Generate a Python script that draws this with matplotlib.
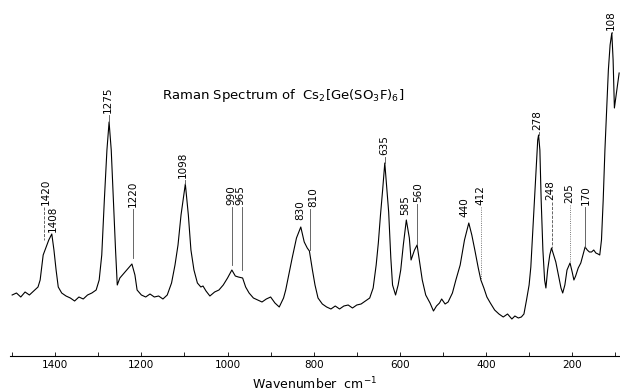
import matplotlib
matplotlib.use("Agg")
import matplotlib.pyplot as plt
import numpy as np

# spectrum: wavenumber (cm-1) and intensity (arb. units)
wavenumber = [1500, 1490, 1480, 1470, 1460, 1450, 1440, 1435, 1428, 1422, 1415, 1408,
              1403, 1398, 1393, 1385, 1375, 1365, 1355, 1345, 1335, 1325, 1315, 1305,
              1298, 1292, 1286, 1280, 1275, 1270, 1265, 1260, 1256, 1250, 1244, 1238,
              1230, 1222, 1215, 1210, 1200, 1190, 1180, 1170, 1160, 1150, 1140, 1130,
              1122, 1115, 1108, 1098, 1091, 1085, 1078, 1070, 1062, 1057, 1050, 1041,
              1030, 1020, 1010, 1000, 990, 982, 975, 965, 958, 950, 940, 930,
              920, 910, 900, 890, 880, 870, 865, 858, 850, 840, 830, 822,
              815, 810, 803, 797, 790, 780, 770, 760, 750, 740, 730, 720,
              710, 700, 690, 680, 670, 662, 655, 650, 645, 640, 635, 630,
              626, 621, 617, 610, 604, 598, 592, 585, 578, 574, 566, 560,
              553, 548, 540, 530, 522, 515, 508, 503, 495, 488, 478, 470,
              460, 450, 440, 433, 426, 418, 412, 405, 398, 390, 380, 370,
              360, 350, 340, 333, 325, 318, 312, 306, 300, 296, 290, 285,
              280, 278, 275, 272, 268, 264, 261, 257, 252, 248, 243, 238,
              232, 226, 222, 217, 212, 205, 200, 196, 192, 186, 180, 175,
              170, 165, 160, 155, 150, 145, 140, 136, 132, 128, 124, 120,
              116, 112, 108, 105, 102, 98, 94, 91]
intensity = [61, 63, 59, 64, 61, 65, 69, 76, 101, 108, 116, 122,
             106, 86, 69, 63, 60, 58, 55, 59, 57, 61, 63, 66,
             76, 101, 156, 206, 234, 206, 156, 106, 71, 78, 81, 84,
             88, 92, 81, 66, 61, 59, 62, 59, 60, 57, 61, 73,
             91, 111, 141, 172, 141, 106, 86, 73, 69, 70, 65, 60,
             64, 66, 71, 78, 86, 80, 79, 78, 69, 63, 58, 56,
             54, 57, 59, 53, 49, 58, 66, 81, 98, 118, 129, 114,
             108, 105, 86, 71, 58, 52, 49, 47, 50, 47, 50, 51,
             48, 51, 52, 55, 58, 68, 91, 113, 141, 166, 193, 166,
             144, 98, 71, 61, 71, 86, 111, 136, 118, 96, 106, 111,
             91, 76, 61, 53, 45, 50, 53, 57, 52, 54, 63, 76,
             91, 116, 133, 121, 106, 88, 76, 68, 59, 53, 46, 42,
             39, 42, 37, 40, 38, 39, 42, 56, 71, 89, 136, 176,
             216, 221, 206, 156, 106, 76, 68, 86, 101, 108, 101, 94,
             81, 68, 63, 71, 86, 93, 84, 76, 80, 88, 93, 101,
             109, 106, 104, 104, 106, 103, 102, 101, 116, 156, 206, 246,
             286, 311, 323, 296, 248, 261, 274, 283]

# band labels: position, label text, where the label ends and where its marker line ends
band_pos = [1423, 1405, 1279, 1221, 1103, 992, 971, 832, 801, 637,
            588, 558, 449, 414, 282, 252, 207, 168, 110]
band_text = ["1420", "1408", "1275", "1220", "1098", "990", "965", "830", "810", "635",
             "585", "560", "440", "412", "278", "248", "205", "170", "108"]
text_base = [151, 124, 243, 149, 178, 151, 151, 136, 149, 201,
             141, 154, 139, 151, 226, 156, 153, 151, 326]
line_pos = [1425, None, 1275, 1220, 1098, 990, 966, None, 808, 635,
            None, 560, None, 412, 278, 248, 205, 170, 108]
line_end = [116, None, 234, 98, 172, 91, 86, None, 106, 193,
            None, 112, None, 76, 221, 108, 93, 109, 323]
line_style = ["--", None, "-", "-", "-", "-", "-", None, "-", "-",
              None, "-", None, ":", "-", "--", ":", "-", "-"]

fig = plt.figure(figsize=(6.2, 3.92), dpi=100)
ax = fig.add_axes([10 / 620, 36 / 392, 610 / 620, 356 / 392])

ax.plot(wavenumber, intensity, color="black", lw=0.8)

for i in range(len(band_pos)):
    ax.text(band_pos[i], text_base[i], band_text[i], rotation=90, ha="center", va="bottom",
            fontsize=7.5, color="black")
    if line_pos[i] is not None:
        ax.plot([line_pos[i], line_pos[i]], [text_base[i] - 2, line_end[i]],
                color="0.3", lw=0.6, ls=line_style[i])

fig.text(283 / 620, 1 - 95 / 392, r"Raman Spectrum of  Cs$_2\left[\mathrm{Ge(SO_3F)_6}\right]$",
         ha="center", va="center", fontsize=9.5)

ax.set_xlim(1505, 89)
ax.set_ylim(0, 356)
ax.set_xticks([1400, 1200, 1000, 800, 600, 400, 200])
ax.set_xticks(np.arange(1500, 99, -100), minor=True)
ax.tick_params(axis="x", which="both", direction="in", length=3, width=0.6,
               labelsize=7.5, pad=3)
ax.set_yticks([])
for side in ["top", "left", "right"]:
    ax.spines[side].set_visible(False)
ax.spines["bottom"].set_linewidth(0.8)
ax.set_xlabel("Wavenumber  cm$^{-1}$", fontsize=9, labelpad=4)

fig.savefig("out.png", dpi=100)
